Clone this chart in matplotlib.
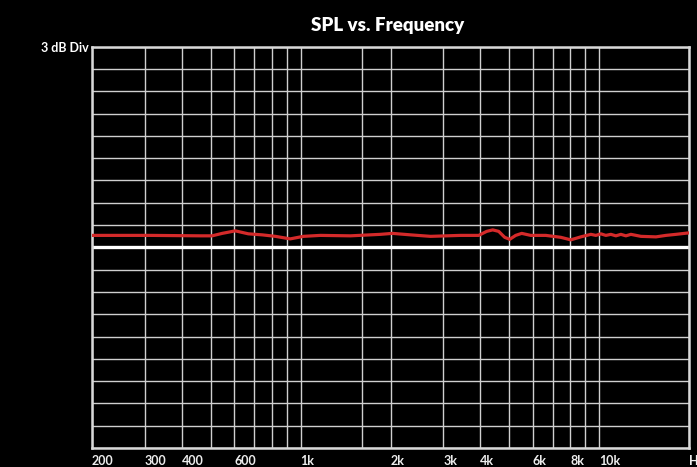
import matplotlib
matplotlib.use("Agg")
import matplotlib.pyplot as plt
from matplotlib.ticker import NullFormatter

# ---- data ----
freq_hz = [200, 313, 461, 505, 546, 604, 668, 744, 823, 923, 1021, 1165, 1468,
           1851, 2031, 2335, 2724, 3435, 3949, 4200, 4400, 4608, 4826, 5016,
           5253, 5503, 5900, 6626, 7440, 8036, 8682, 9382, 9750, 10134, 10531,
           10947, 11378, 11826, 12291, 12775, 13802, 15500, 16744, 18090, 20000]
spl_db = [1.61, 1.61, 1.55, 1.55, 1.88, 2.22, 1.82, 1.68, 1.48, 1.14, 1.48,
          1.61, 1.55, 1.75, 1.88, 1.68, 1.48, 1.61, 1.61, 2.15, 2.35, 2.15,
          1.35, 1.08, 1.61, 1.88, 1.61, 1.61, 1.35, 1.01, 1.41, 1.75, 1.61,
          1.82, 1.61, 1.75, 1.55, 1.75, 1.55, 1.75, 1.48, 1.41, 1.61, 1.75, 1.95]

label_ticks = [200, 300, 400, 600, 1000, 2000, 3000, 4000, 6000, 8000, 10000, 20000]
label_texts = ["200", "300", "400", "600", "1k", "2k", "3k", "4k", "6k", "8k", "10k", "Hz"]
minor_grid = [500, 700, 800, 900, 1600, 5000, 7000, 9000]
y_min, y_max, y_step = -27, 27, 3

title_text = "SPL vs. Frequency"
div_text = "3 dB Div"

# ---- figure ----
fig = plt.figure(figsize=(6.97, 4.67), dpi=100, facecolor="black")
ax = fig.add_axes([92/697, 1-448/467, (689-92)/697, (448-46.7)/467])
ax.set_facecolor("black")

ax.set_xscale("log")
ax.set_xlim(200, 20000)
ax.set_ylim(y_min, y_max)

grid_col = "#cfcfcf"
ax.set_xticks(label_ticks)
ax.set_xticklabels(label_texts)
ax.set_xticks(minor_grid, minor=True)
ax.xaxis.set_minor_formatter(NullFormatter())
ax.set_yticks(list(range(y_min, y_max + 1, y_step)))
ax.set_yticklabels([])
ax.tick_params(axis="both", which="both", length=0)
ax.tick_params(axis="x", which="major", pad=5, colors="#e8e8e8")
for lbl in ax.get_xticklabels():
    lbl.set_horizontalalignment("left")
    lbl.set_fontfamily("Lato")
    lbl.set_fontweight("bold")
    lbl.set_fontsize(9)
    lbl.set_color("#ececec")

ax.grid(True, which="both", color=grid_col, linewidth=1.0)
ax.set_axisbelow(True)
for s in ax.spines.values():
    s.set_color("#d8d8d8")
    s.set_linewidth(1.8)

ax.axhline(0, color="white", linewidth=2.4, zorder=2)
ax.plot(freq_hz, spl_db, color="#d42a2a", linewidth=2.3, zorder=3)

fig.text(388/697, 1-25/467, title_text, ha="center", va="center",
         color="white", fontsize=13.5, fontweight="heavy", family="Lato")
fig.text(89/697, 1-48/467, div_text, ha="right", va="center",
         color="white", fontsize=9, fontweight="bold", family="Lato")

fig.savefig("out.png", dpi=100, facecolor="black")
